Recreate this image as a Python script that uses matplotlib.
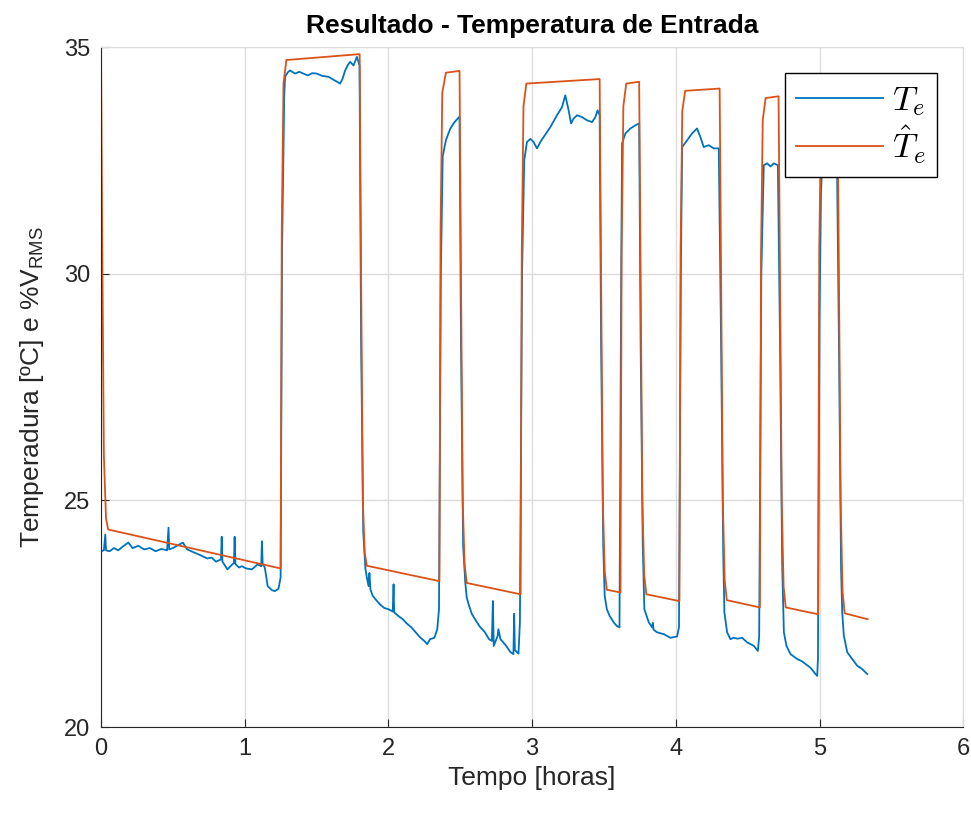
import matplotlib
matplotlib.use('Agg')
import matplotlib.pyplot as plt

# Te medida (tempo em horas, temperatura em graus C)
t_med = [0.0, 0.02, 0.03, 0.035, 0.06, 0.09, 0.12, 0.15, 0.19, 0.22, 0.26, 0.3, 0.34, 0.38, 0.42, 0.46, 0.47, 0.475,
         0.5, 0.54, 0.57, 0.6, 0.65, 0.7, 0.74, 0.77, 0.8, 0.835, 0.84, 0.845, 0.88, 0.91, 0.925, 0.93, 0.935, 0.96,
         0.98, 1.01, 1.05, 1.09, 1.115, 1.12, 1.125, 1.14, 1.16, 1.19, 1.21, 1.235, 1.25,
         1.26, 1.275, 1.281, 1.30, 1.316, 1.35, 1.38, 1.409, 1.44, 1.47, 1.502, 1.54, 1.583, 1.61, 1.641, 1.664,
         1.68, 1.699, 1.72, 1.734, 1.757, 1.781, 1.799,
         1.81, 1.825, 1.84, 1.85, 1.862, 1.868, 1.875, 1.89, 1.91, 1.94, 1.97, 2.0, 2.03, 2.036, 2.04, 2.07, 2.1,
         2.13, 2.16, 2.19, 2.22, 2.25, 2.27, 2.29, 2.32, 2.34, 2.352,
         2.365, 2.378, 2.40, 2.43, 2.46, 2.495,
         2.505, 2.52, 2.535, 2.545, 2.56, 2.58, 2.61, 2.64, 2.67, 2.70, 2.72, 2.727, 2.733, 2.76, 2.765, 2.78, 2.82,
         2.85, 2.87, 2.875, 2.88, 2.905, 2.915,
         2.93, 2.945, 2.964, 2.988, 3.01, 3.034, 3.057, 3.08, 3.127, 3.173, 3.208, 3.231, 3.254, 3.271, 3.289,
         3.313, 3.347, 3.382, 3.417, 3.44, 3.456, 3.47,
         3.48, 3.495, 3.505, 3.52, 3.54, 3.57, 3.59, 3.608,
         3.62, 3.626, 3.649, 3.684, 3.73, 3.745,
         3.755, 3.77, 3.781, 3.812, 3.835, 3.84, 3.845, 3.87, 3.916, 3.962, 4.009, 4.022,
         4.035, 4.044, 4.079, 4.113, 4.148, 4.171, 4.194, 4.229, 4.264, 4.299,
         4.315, 4.33, 4.338, 4.357, 4.38, 4.403, 4.43, 4.461, 4.496, 4.543, 4.571, 4.58,
         4.595, 4.612, 4.636, 4.659, 4.682, 4.71,
         4.725, 4.74, 4.752, 4.77, 4.798, 4.845, 4.879, 4.903, 4.937, 4.972, 4.984, 4.989,
         5.0, 5.01, 5.02, 5.05, 5.09, 5.12,
         5.135, 5.15, 5.158, 5.169, 5.193, 5.228, 5.263, 5.297, 5.332]
Te_med = [23.88, 23.9, 24.25, 23.9, 23.88, 23.95, 23.9, 23.98, 24.07, 23.95, 24.0, 23.92, 23.95, 23.88, 23.93, 23.9, 24.4, 23.92,
          23.95, 24.02, 24.07, 23.92, 23.85, 23.78, 23.72, 23.74, 23.65, 23.7, 24.2, 23.65, 23.48, 23.58, 23.62, 24.2, 23.6, 23.52,
          23.55, 23.5, 23.48, 23.59, 23.55, 24.1, 23.6, 23.52, 23.11, 23.02, 23.0, 23.05, 23.3,
          30.5, 33.9, 34.35, 34.45, 34.49, 34.42, 34.46, 34.42, 34.38, 34.43, 34.42, 34.37, 34.35, 34.3, 34.24, 34.2,
          34.3, 34.49, 34.62, 34.68, 34.6, 34.79, 34.6,
          28.5, 24.3, 23.5, 23.3, 23.11, 23.4, 23.04, 22.9, 22.82, 22.71, 22.63, 22.6, 22.55, 23.15, 22.53, 22.45, 22.38,
          22.28, 22.2, 22.09, 21.98, 21.9, 21.83, 21.94, 21.97, 22.16, 22.6,
          30.0, 32.6, 32.95, 33.2, 33.35, 33.47,
          28.5, 24.0, 23.19, 22.86, 22.69, 22.5, 22.34, 22.2, 22.1, 21.94, 21.9, 22.78, 21.79, 22.01, 22.16, 21.94, 21.79,
          21.65, 21.61, 22.5, 21.7, 21.62, 22.3,
          30.0, 32.5, 32.91, 32.98, 32.91, 32.77, 32.91, 33.02, 33.24, 33.5, 33.68, 33.94, 33.61, 33.32, 33.43,
          33.5, 33.46, 33.39, 33.35, 33.46, 33.61, 33.5,
          28.5, 24.0, 22.9, 22.6, 22.45, 22.3, 22.23, 22.2,
          30.0, 32.88, 33.1, 33.21, 33.3, 33.32,
          28.5, 24.0, 22.6, 22.31, 22.2, 22.3, 22.15, 22.09, 22.05, 21.97, 22.0, 22.2,
          30.0, 32.8, 32.95, 33.1, 33.21, 33.02, 32.8, 32.84, 32.77, 32.77,
          28.5, 23.8, 22.53, 22.09, 21.94, 21.97, 21.95, 21.97, 21.87, 21.79, 21.68, 22.0,
          30.0, 32.4, 32.44, 32.37, 32.44, 32.4,
          28.5, 23.6, 22.09, 21.79, 21.61, 21.5, 21.45, 21.39, 21.31, 21.17, 21.13, 21.5,
          29.0, 31.8, 32.5, 32.7, 32.85, 32.9,
          28.5, 23.5, 22.53, 22.02, 21.65, 21.5, 21.35, 21.28, 21.17]

# Te estimada
t_est = [0.0, 0.008, 0.02, 0.035, 0.05,
         1.25, 1.258, 1.27, 1.29, 1.80, 1.81, 1.822, 1.835, 1.85,
         2.355, 2.363, 2.375, 2.40, 2.495, 2.505, 2.517, 2.53, 2.545,
         2.92, 2.928, 2.94, 2.96, 3.47, 3.48, 3.492, 3.505, 3.52,
         3.615, 3.623, 3.635, 3.655, 3.745, 3.755, 3.767, 3.78, 3.795,
         4.025, 4.033, 4.045, 4.065, 4.305, 4.315, 4.327, 4.34, 4.355,
         4.585, 4.593, 4.605, 4.625, 4.715, 4.725, 4.737, 4.75, 4.765,
         4.99, 4.998, 5.01, 5.03, 5.125, 5.135, 5.147, 5.16, 5.175, 5.335]
Te_est = [35.0, 31.0, 26.0, 24.6, 24.36,
          23.5, 31.0, 34.2, 34.72, 34.85, 30.0, 25.0, 23.85, 23.56,
          23.22, 31.0, 34.0, 34.44, 34.48, 30.0, 25.0, 23.6, 23.18,
          22.93, 30.5, 33.7, 34.2, 34.3, 30.0, 25.0, 23.45, 23.03,
          22.97, 30.5, 33.7, 34.2, 34.24, 30.0, 25.0, 23.35, 22.93,
          22.78, 30.5, 33.6, 34.04, 34.09, 30.0, 25.0, 23.25, 22.8,
          22.64, 30.5, 33.4, 33.88, 33.92, 30.0, 25.0, 23.1, 22.64,
          22.49, 30.5, 33.3, 33.78, 33.8, 30.0, 25.0, 23.0, 22.51, 22.38]

plt.rcParams['font.family'] = ['Liberation Sans', 'DejaVu Sans']
plt.rcParams['mathtext.fontset'] = 'custom'
plt.rcParams['mathtext.rm'] = 'Liberation Sans'
plt.rcParams['mathtext.it'] = 'Liberation Sans:italic'

fig = plt.figure(figsize=(9.71, 8.16), dpi=100)
ax = fig.add_axes([0.104, 0.109, 0.888, 0.833])

ax.plot(t_med, Te_med, color='#0072BD', lw=1.3, label=r'$T_e$')
ax.plot(t_est, Te_est, color='#D95319', lw=1.3, label=r'$\hat{T}_e$')

ax.set_xlim(0, 6)
ax.set_ylim(20, 35)
ax.set_xticks(range(0, 7))
ax.set_yticks([20, 25, 30, 35])
ax.grid(True, color='#dcdcdc', lw=1)
ax.set_axisbelow(True)
for s in ['top', 'right']:
    ax.spines[s].set_color('#dcdcdc')
for s in ['left', 'bottom']:
    ax.spines[s].set_color('#262626')
ax.tick_params(direction='in', length=6, labelsize=17, colors='#262626', pad=8)

ax.set_title('Resultado - Temperatura de Entrada', fontsize=19, fontweight='bold', pad=10)
ax.set_xlabel('Tempo [horas]', fontsize=19, color='#262626')
ax.set_ylabel('Temperadura [ºC] e %V$_{\\mathrm{RMS}}$', fontsize=19, color='#262626', labelpad=13)

leg = ax.legend(loc='upper right', bbox_to_anchor=(0.970, 0.962), borderaxespad=0, fontsize=25,
                fancybox=False, edgecolor='black', framealpha=1, handlelength=2.5,
                handletextpad=0.25, labelspacing=0.15, borderpad=0.32)
leg.get_frame().set_linewidth(1.0)
for txt in leg.get_texts():
    txt.set_math_fontfamily('cm')

fig.savefig('out.png', dpi=100)
